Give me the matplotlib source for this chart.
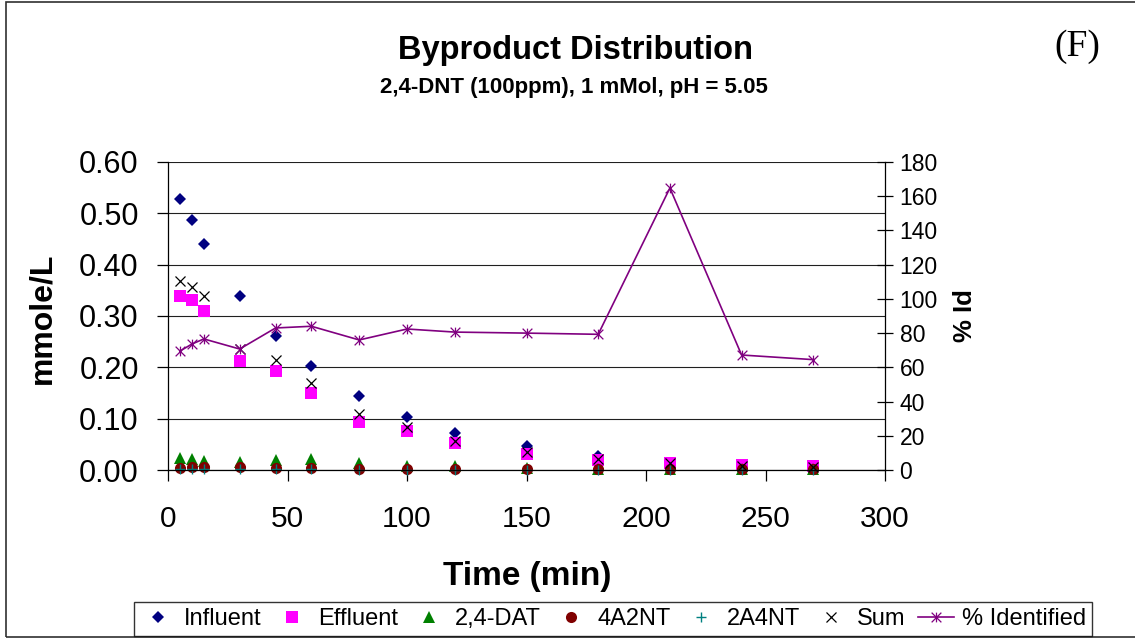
"""
Byproduct distribution chart for 2,4-DNT (100 ppm), 1 mMol, pH = 5.05.

Left axis: concentrations (mmole/L); right axis: percent identified.
Saved as out.png.
"""

import matplotlib
matplotlib.use("Agg")
import matplotlib.pyplot as plt
import matplotlib.ticker as ticker
from matplotlib.patches import Rectangle
from matplotlib.path import Path

# ---------------------------------------------------------------------------
# Data
# ---------------------------------------------------------------------------
time_min = [5, 10, 15, 30, 45, 60, 80, 100, 120, 150, 180, 210, 240, 270]
influent = [0.528, 0.487, 0.441, 0.339, 0.261, 0.203, 0.144, 0.103, 0.073, 0.047, 0.027, 0.008, 0.010, 0.008]
effluent = [0.339, 0.331, 0.310, 0.212, 0.193, 0.150, 0.094, 0.076, 0.052, 0.031, 0.019, 0.013, 0.010, 0.007]
dat_24 = [0.023, 0.021, 0.018, 0.016, 0.019, 0.021, 0.013, 0.008, 0.008, 0.003, 0.002, 0.001, 0.001, 0.001]
a4_2nt = [0.004, 0.006, 0.006, 0.005, 0.004, 0.003, 0.002, 0.002, 0.002, 0.002, 0.001, 0.001, 0.001, 0.001]
a2_4nt = [0.001, 0.001, 0.001, 0.001, 0.001, 0.001, 0.000, 0.000, 0.000, 0.000, 0.000, 0.000, 0.000, 0.000]
total = [0.368, 0.357, 0.339, 0.236, 0.214, 0.170, 0.109, 0.084, 0.057, 0.035, 0.021, 0.013, 0.008, 0.006]
pct_identified = [69.5, 73.6, 76.6, 70.7, 83.0, 84.0, 76.0, 82.4, 80.6, 80.0, 79.3, 164.8, 67.2, 64.5]

# ---------------------------------------------------------------------------
# Style
# ---------------------------------------------------------------------------
_W, _H = 1135, 638
_DPI = 100
_SANS = "Liberation Sans"
_SERIF = "Liberation Serif"

# Excel-style "star": an X with a vertical bar through it
_STAR = Path(
    [(0, -1), (0, 1), (-1, -1), (1, 1), (-1, 1), (1, -1)],
    [Path.MOVETO, Path.LINETO] * 3,
)

plt.rcParams["font.family"] = _SANS


def fx(px):
    return px / _W


def fy(py):
    return 1 - py / _H


fig = plt.figure(figsize=(_W / _DPI, _H / _DPI), dpi=_DPI)
ax = fig.add_axes([fx(168), fy(470), fx(885) - fx(168), fy(162) - fy(470)])
ax2 = ax.twinx()

sc_kw = dict(linestyle="none", clip_on=False)
ax.plot(time_min, influent, marker="D", markersize=6.2, color="#000080", mew=0, label="Influent", **sc_kw)
ax.plot(time_min, effluent, marker="s", markersize=8.5, color="#FF00FF", mew=0, label="Effluent", **sc_kw)
ax.plot(time_min, dat_24, marker="^", markersize=8.5, color="#008000", mew=0, label="2,4-DAT", **sc_kw)
ax.plot(time_min, a4_2nt, marker="o", markersize=8, color="#800000", mew=0, label="4A2NT", **sc_kw)
ax.plot(time_min, a2_4nt, marker="+", markersize=7, color="#008080", mew=1.0, label="2A4NT", **sc_kw)
ax.plot(time_min, total, marker="x", markersize=7, color="black", mew=0.9, label="Sum", **sc_kw)
ax2.plot(time_min, pct_identified, marker=_STAR, markersize=7, color="#800080", mew=0.9,
         linewidth=1.2, label="% Identified", clip_on=False)

# left axis
ax.set_xlim(0, 300)
ax.set_ylim(0, 0.6)
ax.xaxis.set_major_locator(ticker.MultipleLocator(50))
ax.yaxis.set_major_locator(ticker.MultipleLocator(0.1))
ax.yaxis.set_major_formatter(ticker.FormatStrFormatter("%.2f"))
ax.grid(True, axis="y", color="#202020", linewidth=0.8)
ax.set_axisbelow(True)
ax.tick_params(axis="y", direction="out", length=8, width=0.9, labelsize=22, pad=13)
ax.tick_params(axis="x", direction="out", length=8, width=0.9, labelsize=21.5, pad=17)
for side in ("top", "right"):
    ax.spines[side].set_visible(False)
for side in ("left", "bottom"):
    ax.spines[side].set_linewidth(0.9)

# right axis
ax2.set_ylim(0, 180)
ax2.yaxis.set_major_locator(ticker.MultipleLocator(20))
ax2.tick_params(axis="y", direction="inout", length=11, width=0.9, labelsize=16.5, pad=5)
for side in ("top", "left", "bottom"):
    ax2.spines[side].set_visible(False)
ax2.spines["right"].set_linewidth(0.9)

# titles and axis labels
fig.text(fx(575), fy(51), "Byproduct Distribution", ha="center", va="center",
         fontsize=23.5, fontweight="bold")
fig.text(fx(574), fy(87), "2,4-DNT (100ppm), 1 mMol, pH = 5.05", ha="center", va="center",
         fontsize=16, fontweight="bold")
fig.text(fx(1077), fy(47), "(F)", ha="center", va="center", fontsize=27, family=_SERIF)
fig.text(fx(527), fy(577), "Time (min)", ha="center", va="center", fontsize=24, fontweight="bold")
fig.text(fx(42), fy(318), "mmole/L", ha="center", va="center", rotation=90,
         fontsize=23, fontweight="bold")
fig.text(fx(965), fy(316), "% Id", ha="center", va="center", rotation=90,
         fontsize=18.5, fontweight="bold")

# legend
handles = ax.get_legend_handles_labels()[0] + ax2.get_legend_handles_labels()[0]
leg = fig.legend(
    handles, [h.get_label() for h in handles],
    loc="lower left", bbox_to_anchor=(fx(134), fy(636)), ncol=7,
    fontsize=17, frameon=True, fancybox=False, edgecolor="black",
    borderpad=0.25, borderaxespad=0, handlelength=1.5, handletextpad=0.35,
    columnspacing=0.55,
)
leg.get_frame().set_linewidth(1.0)

# chart-area border
fig.patches.append(Rectangle((fx(6), fy(637)), 1.2, fy(1.5) - fy(637), transform=fig.transFigure,
                             fill=False, edgecolor="#303030", linewidth=1.2, zorder=-1))

fig.savefig("out.png", dpi=_DPI)
